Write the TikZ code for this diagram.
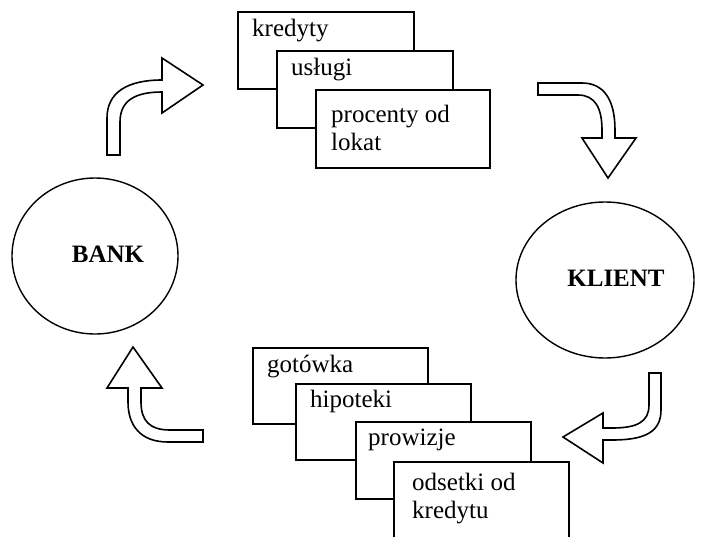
\documentclass[tikz,border=0pt]{standalone}
\usepackage{fontspec}
\setmainfont{Liberation Serif}
\usetikzlibrary{shapes.geometric}
\begin{document}
\begin{tikzpicture}[x=1pt,y=-1pt,
  card/.style={draw,fill=white,line width=1.8pt,anchor=north west,inner sep=0pt},
  lbl/.style={anchor=base west,inner sep=0pt,font=\fontsize{25}{30}\selectfont},
  party/.style={draw,ellipse,line width=1.4pt,inner sep=0pt},
  pname/.style={inner sep=0pt,font=\fontsize{25}{30}\selectfont\bfseries},
  bent/.style={draw,fill=white,line width=1.6pt,line join=miter}]
\useasboundingbox (0,0) rectangle (702,536);

% the two parties
\node[party,minimum width=166pt,minimum height=156pt] (bank) at (95,256) {};
\node[pname] (banktxt) at (108,254) {BANK};
\node[party,minimum width=178pt,minimum height=156pt] (klient) at (605,280) {};
\node[pname] (klienttxt) at (616,278) {KLIENT};

% what the bank gives the client
\node[card,minimum width=176pt,minimum height=77pt] (k1) at (237,11) {};
\node[lbl] (t1) at (252,36) {kredyty};
\node[card,minimum width=176pt,minimum height=77pt] (k2) at (276,50) {};
\node[lbl] (t2) at (291,75) {usługi};
\node[card,minimum width=174pt,minimum height=78pt] (k3) at (315,89) {};
\node[lbl] (t3) at (331,122) {procenty od};
\node[lbl] (t4) at (331,150) {lokat};

% what the client gives the bank
\node[card,minimum width=175pt,minimum height=76pt] (g1) at (252,347) {};
\node[lbl] (u1) at (267,372) {gotówka};
\node[card,minimum width=175pt,minimum height=76pt] (g2) at (295,383) {};
\node[lbl] (u2) at (310,407) {hipoteki};
\node[card,minimum width=175pt,minimum height=77pt] (g3) at (355,421) {};
\node[lbl] (u3) at (368,445) {prowizje};
\node[card,minimum width=175pt,minimum height=90pt] (g4) at (393,461) {};
\node[lbl] (u4) at (412,490) {odsetki od};
\node[lbl] (u5) at (412,518) {kredytu};

% bent block arrows
\draw[bent] (107,155) -- (107,118) .. controls (107,92) and (128,80) .. (162,80)
  -- (162,58) -- (203,85) -- (162,113) -- (162,92)
  .. controls (136,92) and (120,100) .. (120,122) -- (120,155) -- cycle;

\draw[bent] (538,83) -- (582,83) .. controls (604,83) and (615,100) .. (615,130)
  -- (615,138) -- (636,138) -- (608,178) -- (582,138) -- (602,138) -- (602,130)
  .. controls (602,108) and (595,95) .. (578,95) -- (538,95) -- cycle;

\draw[bent] (649,373) -- (661,373) -- (661,410) .. controls (661,432) and (645,440) .. (612,440)
  -- (603,440) -- (603,463) -- (563,437) -- (603,413) -- (603,428) -- (612,428)
  .. controls (637,428) and (649,422) .. (649,405) -- cycle;

\draw[bent] (128,388) -- (107,388) -- (133,347) -- (162,388) -- (141,388) -- (141,402)
  .. controls (141,421) and (150,430) .. (170,430) -- (203,430) -- (203,442) -- (168,442)
  .. controls (140,442) and (128,425) .. (128,402) -- cycle;
\end{tikzpicture}
\end{document}
